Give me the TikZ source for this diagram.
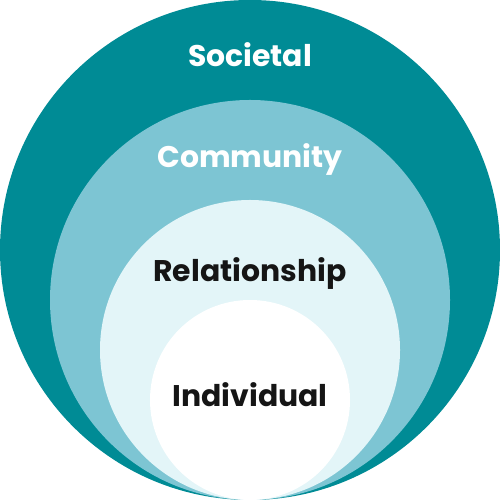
\documentclass[tikz,border=0pt]{standalone}
\usepackage{fontspec}
\setmainfont{Poppins}
\definecolor{outerc}{HTML}{008B95}
\definecolor{secondc}{HTML}{7DC5D3}
\definecolor{thirdc}{HTML}{E3F5F8}
\definecolor{darktext}{HTML}{151515}
\tikzset{
  ring/.style={circle, draw=none, inner sep=0pt},
  lbl/.style={anchor=base, inner sep=0pt, font=\fontsize{17}{21}\selectfont\bfseries}
}
\begin{document}
\begin{tikzpicture}
\useasboundingbox (0,0) rectangle (10,10);
\node[ring, fill=outerc, minimum size=10cm] (societal) at (5,5) {};
\node[ring, fill=secondc, minimum size=8cm] (community) at (5,4) {};
\node[ring, fill=thirdc, minimum size=6cm] (relationship) at (5,3) {};
\node[ring, fill=white, minimum size=4cm] (individual) at (5,2) {};
\node[lbl, text=white] (t1) at (5,8.66) {Societal};
\node[lbl, text=white] (t2) at (5,6.64) {Community};
\node[lbl, text=darktext] (t3) at (5,4.36) {Relationship};
\node[lbl, text=darktext] (t4) at (5,1.86) {Individual};
\end{tikzpicture}
\end{document}
